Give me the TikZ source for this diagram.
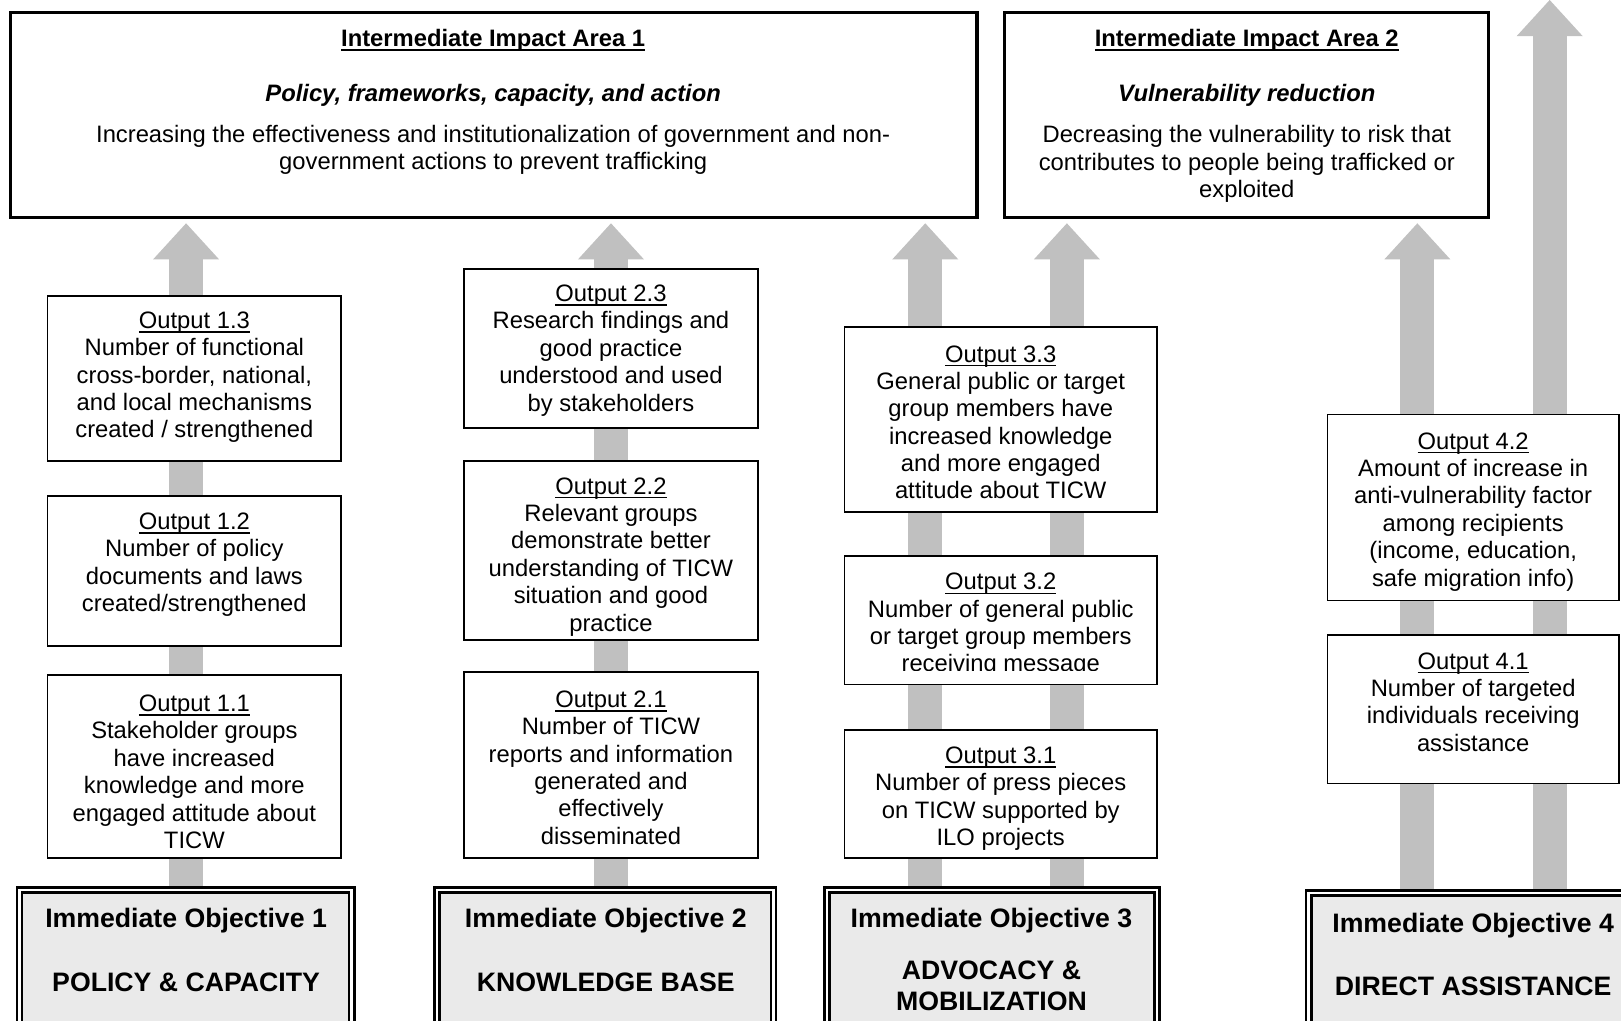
\documentclass[tikz,border=0pt]{standalone}
\usepackage{fontspec}
\setmainfont{Liberation Sans}
\usetikzlibrary{arrows.meta}
\definecolor{arrowgray}{HTML}{C0C0C0}
\definecolor{iofill}{HTML}{EAEAEA}
\newcommand\myul[1]{\setbox0=\hbox{#1}\rlap{\rule[-2.1pt]{\wd0}{0.7pt}}\box0}
\newcommand\myulb[1]{\setbox0=\hbox{#1}\rlap{\rule[-2.3pt]{\wd0}{0.9pt}}\box0}
\begin{document}
\begin{tikzpicture}[x=0.5pt,y=-0.5pt,
  obox/.style={draw=black, line width=0.8pt, fill=white, inner sep=0pt, outer sep=0pt},
  tbox/.style={draw=black, line width=1.5pt, fill=white, inner sep=0pt, outer sep=0pt},
  iobox/.style={draw=black, double=white, double distance=1.2pt, line width=1.3pt, fill=iofill, inner sep=0pt, outer sep=0pt},
  otext/.style={align=center, inner sep=0pt, font=\fontsize{11.5pt}{13.25pt}\selectfont},
  iotext/.style={align=center, inner sep=0pt, font=\fontsize{12.9pt}{14.6pt}\selectfont\bfseries},
  bigarrow/.style={draw=arrowgray, line width=16.5pt, -{Triangle[width=32pt,length=17.5pt,line width=0pt]}}]
\fill[white] (0,0) rectangle (1568,987);
\useasboundingbox (0,0) rectangle (1568,987);

% arrow tips and starts
\coordinate (a1) at (180,216);
\coordinate (a2) at (591,216);
\coordinate (a3) at (895,216);
\coordinate (a4) at (1032,216);
\coordinate (a5) at (1371,216);
\coordinate (a6) at (1499,0);
\coordinate (b1) at (180,870);
\coordinate (b2) at (591,870);
\coordinate (b3) at (895,870);
\coordinate (b4) at (1032,870);
\coordinate (b5) at (1371,875);
\coordinate (b6) at (1499,875);

% arrows (behind boxes)
\draw[bigarrow] (b1) -- (a1);
\draw[bigarrow] (b2) -- (a2);
\draw[bigarrow] (b3) -- (a3);
\draw[bigarrow] (b4) -- (a4);
\draw[bigarrow] (b5) -- (a5);
\draw[bigarrow] (b6) -- (a6);

% top impact boxes
\node[tbox, minimum width=467.5pt, minimum height=99pt] (ia1) at (477.5,111) {};
\node[tbox, minimum width=234pt, minimum height=99pt] (ia2) at (1206,111) {};
\node[otext, font=\fontsize{11.5pt}{13.25pt}\selectfont\bfseries] (ia1t) at (477,39) {\myulb{Intermediate Impact Area 1}};
\node[otext, font=\fontsize{11.5pt}{13.25pt}\selectfont\bfseries\itshape] (ia1s) at (477,92) {Policy, frameworks, capacity, and action};
\node[otext] (ia1b) at (477,145) {Increasing the effectiveness and institutionalization of government and non-\\government actions to prevent trafficking};
\node[otext, font=\fontsize{11.5pt}{13.25pt}\selectfont\bfseries] (ia2t) at (1206,39) {\myulb{Intermediate Impact Area 2}};
\node[otext, font=\fontsize{11.5pt}{13.25pt}\selectfont\bfseries\itshape] (ia2s) at (1206,92) {Vulnerability reduction};
\node[otext] (ia2b) at (1206,158.5) {Decreasing the vulnerability to risk that\\contributes to people being trafficked or\\exploited};

% output boxes column 1
\node[obox, minimum width=142pt, minimum height=80pt] (o13) at (188,366) {};
\node[otext] (o13t) at (188,365) {\myul{Output 1.3}\\Number of functional\\cross-border, national,\\and local mechanisms\\created / strengthened};
\node[obox, minimum width=142pt, minimum height=72.5pt] (o12) at (188,552.5) {};
\node[otext] (o12t) at (188,546) {\myul{Output 1.2}\\Number of policy\\documents and laws\\created/strengthened};
\node[obox, minimum width=142pt, minimum height=88.5pt] (o11) at (188,741.5) {};
\node[otext] (o11t) at (188,746.5) {\myul{Output 1.1}\\Stakeholder groups\\have increased\\knowledge and more\\engaged attitude about\\TICW};

% column 2
\node[obox, minimum width=142pt, minimum height=77pt] (o23) at (591,337) {};
\node[otext] (o23t) at (591,339) {\myul{Output 2.3}\\Research findings and\\good practice\\understood and used\\by stakeholders};
\node[obox, minimum width=142pt, minimum height=86.5pt] (o22) at (591,532.5) {};
\node[otext] (o22t) at (591,538.5) {\myul{Output 2.2}\\Relevant groups\\demonstrate better\\understanding of TICW\\situation and good\\practice};
\node[obox, minimum width=142pt, minimum height=90pt] (o21) at (591,740) {};
\node[otext] (o21t) at (591,742.5) {\myul{Output 2.1}\\Number of TICW\\reports and information\\generated and\\effectively\\disseminated};

% column 3
\node[obox, minimum width=151pt, minimum height=89.5pt] (o33) at (968,405.5) {};
\node[otext] (o33t) at (968,408.5) {\myul{Output 3.3}\\General public or target\\group members have\\increased knowledge\\and more engaged\\attitude about TICW};
\node[obox, minimum width=151pt, minimum height=62pt] (o32) at (968,600) {};
\begin{scope}
\clip (817,538) rectangle (1119,649);
\node[otext] (o32t) at (968,604.5) {\myul{Output 3.2}\\Number of general public\\or target group members\\receiving message};
\end{scope}
\node[obox, minimum width=151pt, minimum height=62pt] (o31) at (968,768) {};
\node[otext] (o31t) at (968,772.5) {\myul{Output 3.1}\\Number of press pieces\\on TICW supported by\\ILO projects};

% column 4
\node[obox, minimum width=141pt, minimum height=90pt] (o42) at (1425,491) {};
\node[otext] (o42t) at (1425,495) {\myul{Output 4.2}\\Amount of increase in\\anti-vulnerability factor\\among recipients\\(income, education,\\safe migration info)};
\node[obox, minimum width=141pt, minimum height=72pt] (o41) at (1425,686) {};
\node[otext] (o41t) at (1425,679) {\myul{Output 4.1}\\Number of targeted\\individuals receiving\\assistance};

% immediate objective boxes
\node[iobox, minimum width=160.7pt, minimum height=74.6pt] (io1) at (179.5,935.4) {};
\node[iobox, minimum width=162.7pt, minimum height=74.6pt] (io2) at (585.5,935.4) {};
\node[iobox, minimum width=159.7pt, minimum height=74.6pt] (io3) at (959.5,935.4) {};
\node[iobox, minimum width=177.1pt, minimum height=73.1pt] (io4) at (1443,936.9) {};
\node[iotext] (io1a) at (180,890) {Immediate Objective 1};
\node[iotext] (io1b) at (180,950) {POLICY \& CAPACITY};
\node[iotext] (io2a) at (586,890) {Immediate Objective 2};
\node[iotext] (io2b) at (586,950) {KNOWLEDGE BASE};
\node[iotext] (io3a) at (959,890) {Immediate Objective 3};
\node[iotext] (io3b) at (959,953.5) {ADVOCACY \&\\MOBILIZATION};
\node[iotext] (io4a) at (1425,895) {Immediate Objective 4};
\node[iotext] (io4b) at (1425,954) {DIRECT ASSISTANCE};
\end{tikzpicture}
\end{document}
